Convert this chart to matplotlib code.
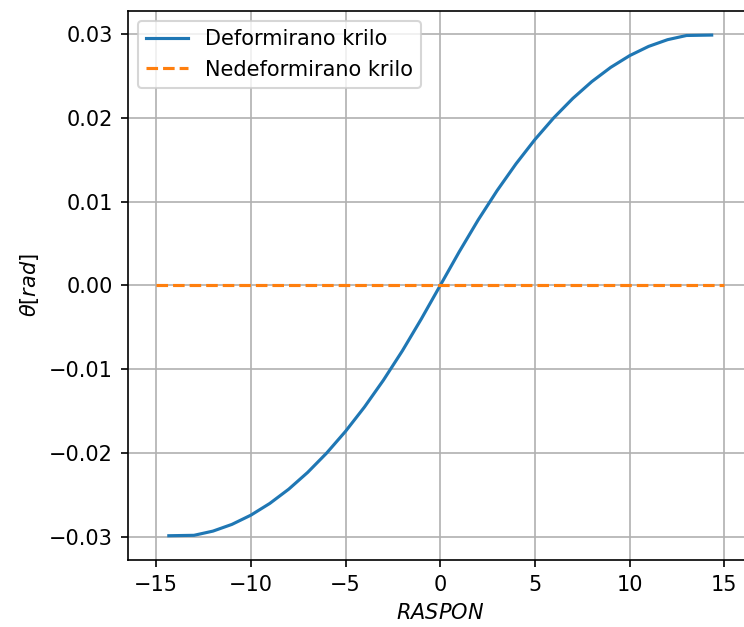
import numpy as np
import matplotlib
matplotlib.use("Agg")
import matplotlib.pyplot as plt

# Deformed wing twist
span_pos = [-14.33, -13, -12, -11, -10, -9, -8, -7, -6, -5, -4, -3, -2, -1, 0,
            1, 2, 3, 4, 5, 6, 7, 8, 9, 10, 11, 12, 13, 14.33]
theta_def = [-0.02985, -0.0298, -0.0293, -0.0285, -0.0274, -0.0260, -0.0243, -0.0223,
             -0.0200, -0.0174, -0.0145, -0.0113, -0.0078, -0.0040, 0.0,
             0.0040, 0.0078, 0.0113, 0.0145, 0.0174, 0.0200, 0.0223, 0.0243,
             0.0260, 0.0274, 0.0285, 0.0293, 0.0298, 0.02985]

# Undeformed wing
span_undef = [-15, 15]
theta_undef = [0.0, 0.0]

dpi = 150
fig = plt.figure(figsize=(744 / dpi, 627 / dpi), dpi=dpi)
ax = fig.add_axes([127.7 / 744, 66.7 / 627, 625.1 / 744, 549.8 / 627])

ax.plot(span_pos, theta_def, label="Deformirano krilo")
ax.plot(span_undef, theta_undef, "--", label="Nedeformirano krilo")
ax.set_xlim(-16.5, 16.5)
ax.set_ylim(-0.03278, 0.03278)
ax.set_xticks([-15, -10, -5, 0, 5, 10, 15])
ax.set_yticks([-0.03, -0.02, -0.01, 0.0, 0.01, 0.02, 0.03])
ax.set_xlabel(r"$RASPON$")
ax.set_ylabel(r"$\theta [rad]$")
ax.grid(True)
ax.legend(loc="upper left")

fig.savefig("out.png", dpi=dpi)
